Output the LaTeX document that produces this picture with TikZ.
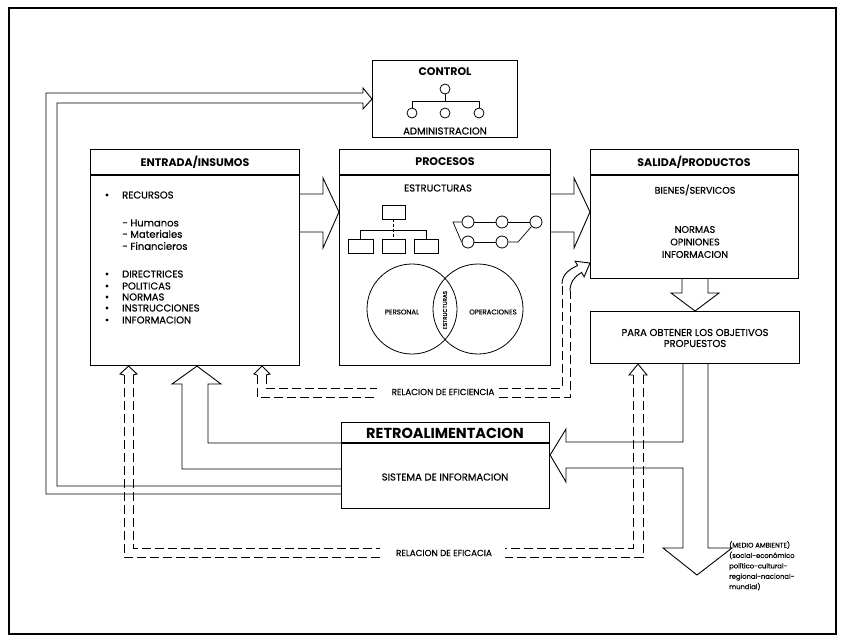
\documentclass[tikz,border=0pt]{standalone}
\usepackage{fontspec}
\setmainfont{Poppins}
\newfontfamily\scanfont{Poppins}[FakeBold=0.4]
\usetikzlibrary{calc}

\tikzset{
  box/.style={draw, line width=1.1pt, inner sep=0pt, anchor=north west},
  hdr/.style={font=\fontsize{11}{12}\selectfont\bfseries, inner sep=1pt},
  txt/.style={font=\scanfont\fontsize{10}{11}\selectfont, inner sep=1pt},
  tiny/.style={font=\scanfont\fontsize{7}{8}\selectfont, inner sep=0.5pt},
  thin/.style={line width=0.7pt},
  blk/.style={line width=0.9pt, line join=miter},
  eff/.style={line width=0.9pt, dash pattern=on 9pt off 4pt},
  dot/.style={circle, draw, line width=0.8pt, minimum size=10pt, inner sep=0pt},
  bull/.style={circle, fill, minimum size=3.4pt, inner sep=0pt},
  orgbox/.style={draw, line width=0.8pt, minimum height=14pt, inner sep=0pt},
  venn/.style={circle, draw, line width=0.8pt, minimum size=90pt, inner sep=0pt},
}

\begin{document}
\begin{tikzpicture}[x=1pt, y=-1pt]
\useasboundingbox (0,0) rectangle (841,640);
% Frame
\draw[line width=1.7pt] (9,8) rectangle (836,634);

% Control
\node[box, minimum width=145pt, minimum height=77pt] (control) at (372,60) {};
\node[hdr] (controlT) at (445,72) {CONTROL};
\node[dot] (c0) at (445,89) {};
\node[dot] (c1) at (412,113) {};
\node[dot] (c2) at (445,113) {};
\node[dot] (c3) at (479,113) {};
\draw[thin] (c0.south) -- (445,101);
\draw[thin] (c1.north) -- (412,101) -- (479,101) -- (c3.north);
\node[txt] (admin) at (445,131) {ADMINISTRACION};

% Entrada
\node[box, minimum width=209pt, minimum height=216pt] (entrada) at (90,149) {};
\draw[line width=1.1pt] (90,175) -- (299,175);
\node[hdr] (entradaT) at (195,162) {ENTRADA/INSUMOS};
\foreach \y/\t in {195/RECURSOS, 274/DIRECTRICES, 286/POLITICAS, 297/NORMAS, 308/INSTRUCCIONES, 320/INFORMACION}{
  \node[bull] (bul\y) at (107,\y) {};
  \node[txt, anchor=west] (itm\y) at (121,\y) {\t};
}
\foreach \y/\t in {223/Humanos, 234/Materiales, 246/Financieros}
  \node[txt, anchor=west] (sub\y) at (121,\y) {- \t};

% Procesos
\node[box, minimum width=211pt, minimum height=216pt] (procesos) at (339,149) {};
\draw[line width=1.1pt] (339,175) -- (550,175);
\node[hdr] (procesosT) at (445,162) {PROCESOS};
\node[txt] (estr) at (438,188) {ESTRUCTURAS};
% organigrama
\node[orgbox, minimum width=23pt] (o0) at (393.5,212) {};
\node[orgbox, minimum width=25pt] (o1) at (360.5,246) {};
\node[orgbox, minimum width=23pt] (o2) at (393.5,246) {};
\node[orgbox, minimum width=24pt] (o3) at (426,246) {};
\draw[thin, densely dashed] (o0.south) -- (393.5,230) -- (o2.north);
\draw[thin] (o1.north) -- (360.5,230) -- (426,230) -- (o3.north);
% red
\node[dot, minimum size=12pt] (n1) at (468,222) {};
\node[dot, minimum size=12pt] (n2) at (502,222) {};
\node[dot, minimum size=12pt] (n3) at (536,222) {};
\node[dot, minimum size=12pt] (n4) at (468,242) {};
\node[dot, minimum size=12pt] (n5) at (502,242) {};
\draw[thin] (n1) -- (n2) -- (n3) (n4) -- (n5);
\draw[thin] (n1.west) -- (453,222) -- (n4.west);
\draw[thin] (n5.east) -- (518,242) -- (n3.south west);
% Venn
\node[venn] (vp) at (412,309) {};
\node[venn] (vo) at (478,309) {};
\node[tiny] (personal) at (402,312) {PERSONAL};
\node[tiny] (operac) at (493,312) {OPERACIONES};
\node[tiny, rotate=90, font=\scanfont\fontsize{5.6}{6}\selectfont] (estrv) at (445,310) {ESTRUCTURAS};

% Salida
\node[box, minimum width=208pt, minimum height=129pt] (salida) at (590,149) {};
\draw[line width=1.1pt] (590,175) -- (798,175);
\node[hdr] (salidaT) at (694,162) {SALIDA/PRODUCTOS};
\node[txt, font=\scanfont\fontsize{9.6}{11}\selectfont] (bienes) at (695,190) {BIENES/SERVICOS};
\node[txt, align=center, font=\scanfont\fontsize{9.6}{12.5}\selectfont] (normas) at (695,242) {NORMAS\\OPINIONES\\INFORMACION};

% Objetivos
\node[box, minimum width=209pt, minimum height=52pt] (para) at (590,311) {};
\node[txt, align=center, font=\scanfont\fontsize{10}{11}\selectfont] (paraT) at (695,338) {PARA OBTENER LOS OBJETIVOS\\PROPUESTOS};

% Retroalimentacion
\node[box, minimum width=208pt, minimum height=86pt] (retro) at (341,422) {};
\draw[line width=1.1pt] (341,443) -- (549,443);
\node[hdr, font=\fontsize{14.5}{15}\selectfont\bfseries] (retroT) at (445,433) {RETROALIMENTACION};
\node[txt] (sistema) at (445,477) {SISTEMA DE INFORMACION};

% Block arrows
\draw[blk] (entrada.east |- 0,194) -- (323,194) -- (323,178) -- (procesos.west |- 0,212)
  -- (323,248) -- (323,232) -- (entrada.east |- 0,232);
\draw[blk] (procesos.east |- 0,194) -- (574,194) -- (574,178) -- (salida.west |- 0,212)
  -- (574,248) -- (574,232) -- (procesos.east |- 0,232);
\draw[blk] (682,278) -- (682,293) -- (671,293) -- (para.north) -- (719,293) -- (708,293) -- (708,278);
\draw[blk] (683,363) -- (683,442) -- (566,442) -- (566,429) -- (retro.east |- 0,455)
  -- (566,482) -- (566,468) -- (683,468) -- (683,548) -- (663,548) -- (697,575)
  -- (732,548) -- (708,548) -- (708,363);
\draw[blk] (retro.west |- 0,443) -- (208,443) -- (208,384) -- (221,384) -- (entrada.south -| 197,0)
  -- (172,384) -- (182,384) -- (182,469) -- (retro.west |- 0,469);
\draw[blk] (retro.west |- 0,486) -- (57,486) -- (57,103) -- (363,103) -- (363,109)
  -- (control.west) -- (363,88) -- (363,93) -- (46,93) -- (46,494) -- (retro.west |- 0,494);

% Relacion de eficiencia
\node[tiny, font=\scanfont\fontsize{8.8}{9}\selectfont] (eficiencia) at (443,392) {RELACION DE EFICIENCIA};
\coordinate (efiL) at ($(eficiencia.west)+(-14,0)$);
\coordinate (efiR) at ($(eficiencia.east)+(4,0)$);
\draw[blk] (257,375) -- (254,374) -- (entrada.south -| 262,0) -- (270,374) -- (266,375);
\draw[eff] (266,375) -- (266,388) -- (efiL |- 0,388);
\draw[eff] (257,375) -- (257,397) -- (efiL |- 0,397);
\draw[eff] (efiR |- 0,388) -- (562,388) -- (562,284);
\draw[eff] (efiR |- 0,397) -- (570,397) -- (570,291);
\draw[blk] (562,284) .. controls (562,274) and (570,269) .. (577.6,265.5)
  -- (575.1,261.2) -- (salida.west |- 0,263) -- (584.1,276.8) -- (581.6,272.5)
  .. controls (575,276) and (570,282) .. (570,291);

% Relacion de eficacia
\node[tiny, font=\scanfont\fontsize{8.8}{9}\selectfont] (eficacia) at (444,553) {RELACION DE EFICACIA};
\coordinate (ecaL) at ($(eficacia.west)+(-15,0)$);
\coordinate (ecaR) at ($(eficacia.east)+(12,0)$);
\draw[blk] (124,375) -- (120,374) -- (entrada.south -| 128.5,0) -- (137,374) -- (133,375);
\draw[blk] (633,375) -- (629,375) -- (para.south -| 638,0) -- (647,375) -- (643,375);
\draw[eff] (133,375) -- (133,548) -- (ecaL |- 0,548);
\draw[eff] (124,375) -- (124,557) -- (ecaL |- 0,557);
\draw[eff] (633,375) -- (633,548) -- (ecaR |- 0,548);
\draw[eff] (643,375) -- (643,557) -- (ecaR |- 0,557);

% Medio ambiente
\node[anchor=north west, align=left, inner sep=0pt, font=\scanfont\fontsize{6.8}{10.4}\selectfont] (medio) at (729,541)
  {(MEDIO AMBIENTE)\\(social-económico\\político-cultural-\\regional-nacional-\\mundial)};
\end{tikzpicture}
\end{document}
